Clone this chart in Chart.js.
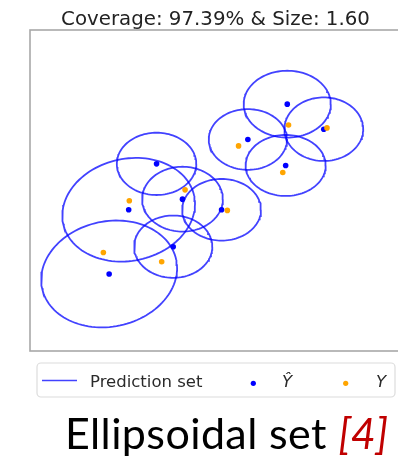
<!DOCTYPE html>
<html>
<head>
<meta charset="utf-8">
<script src="https://cdn.jsdelivr.net/npm/chart.js@4.4.1/dist/chart.umd.min.js"></script>
<style>
  html, body { margin: 0; padding: 0; background: #fff; overflow: hidden; width: 398px; height: 457px; }
  #wrap { position: relative; width: 398px; height: 457px; overflow: hidden; }
  #c { position: absolute; left: 0; top: 0; }
  #caption { position: absolute; left: 65px; top: 408px; font-family: Lato, "Open Sans", sans-serif; font-size: 43px; letter-spacing: 0.4px; line-height: 50px; color: #000; white-space: nowrap; }
  #caption .ref { color: #c00000; font-style: italic; letter-spacing: 0; }
</style>
</head>
<body>
<div id="wrap">
  <canvas id="c" width="410" height="457"></canvas>
  <div id="caption">Ellipsoidal set <span class="ref">[4]</span></div>
</div>
<script>
// Predicted points (also the centres of the prediction ellipses)
const yHatX = [8.03, 9.17, 6.80, 7.98, 3.95, 4.76, 5.98, 3.08, 4.47, 2.47];
const yHatY = [7.69, 6.91, 6.59, 5.78, 5.83, 4.73, 4.40, 4.40, 3.25, 2.40];
// Ellipse semi-axes and rotation (degrees)
const ellRx = [1.36, 1.23, 1.22, 1.25, 1.24, 1.26, 1.23, 2.09, 1.22, 2.14];
const ellRy = [1.04, 0.99, 0.945, 0.95, 0.97, 1.01, 0.96, 1.59, 0.97, 1.64];
const ellAngle = [0, 0, 0, 0, 0, 0, 0, 12, 0, 12];
// True targets
const yX = [8.07, 9.27, 6.51, 7.89, 4.84, 3.10, 6.16, 2.29, 4.11];
const yY = [7.04, 6.95, 6.39, 5.56, 5.02, 4.68, 4.38, 3.07, 2.78];

const titleText = 'Coverage: 97.39% & Size: 1.60';
const legendLabels = ['Prediction set', '\u0176', 'Y'];

const ELL_COLOR = 'rgba(0,0,255,0.74)';
const BLUE = '#0000ff';
const ORANGE = '#ffa500';

function ellipseOutline(cx, cy, rx, ry, deg) {
  const th = deg * Math.PI / 180;
  const pts = [];
  const n = 120;
  for (let k = 0; k <= n; k++) {
    const t = 2 * Math.PI * k / n;
    const ex = rx * Math.cos(t), ey = ry * Math.sin(t);
    pts.push({ x: cx + ex * Math.cos(th) - ey * Math.sin(th),
               y: cy + ex * Math.sin(th) + ey * Math.cos(th) });
  }
  return pts;
}

const datasets = [];
yHatX.forEach((cx, i) => {
  datasets.push({
    label: i === 0 ? legendLabels[0] : '',
    data: ellipseOutline(cx, yHatY[i], ellRx[i], ellRy[i], ellAngle[i]),
    showLine: true, fill: false, tension: 0,
    borderColor: ELL_COLOR, borderWidth: 1.8,
    pointRadius: 0, pointHoverRadius: 0, order: 3
  });
});
datasets.push({
  label: legendLabels[1],
  data: yHatX.map((x, i) => ({ x, y: yHatY[i] })),
  backgroundColor: BLUE, borderWidth: 0, pointRadius: 2.8, order: 2
});
datasets.push({
  label: legendLabels[2],
  data: yX.map((x, i) => ({ x, y: yY[i] })),
  backgroundColor: ORANGE, borderWidth: 0, pointRadius: 2.8, order: 1
});

// Frame, title and legend box drawn around the plotting area
const decor = {
  id: 'decor',
  afterDraw(chart) {
    const { ctx, chartArea: a } = chart;
    ctx.save();
    ctx.strokeStyle = '#a8a8a8';
    ctx.lineWidth = 1.6;
    ctx.strokeRect(a.left, a.top, a.right - a.left, a.bottom - a.top);

    ctx.fillStyle = '#222';
    ctx.font = '19.8px "DejaVu Sans"';
    ctx.textAlign = 'center';
    ctx.textBaseline = 'alphabetic';
    ctx.fillText(titleText, (a.left + a.right) / 2, 25);

    // legend frame
    const lx = 37, ly = 363, lw = 358, lh = 34, r = 4;
    ctx.beginPath();
    ctx.moveTo(lx + r, ly);
    ctx.arcTo(lx + lw, ly, lx + lw, ly + lh, r);
    ctx.arcTo(lx + lw, ly + lh, lx, ly + lh, r);
    ctx.arcTo(lx, ly + lh, lx, ly, r);
    ctx.arcTo(lx, ly, lx + lw, ly, r);
    ctx.closePath();
    ctx.fillStyle = 'rgba(255,255,255,0.8)';
    ctx.fill();
    ctx.strokeStyle = '#dcdcdc';
    ctx.lineWidth = 1.2;
    ctx.stroke();

    ctx.strokeStyle = ELL_COLOR;
    ctx.lineWidth = 1.7;
    ctx.beginPath();
    ctx.moveTo(42, 380.5);
    ctx.lineTo(77, 380.5);
    ctx.stroke();

    ctx.fillStyle = BLUE;
    ctx.beginPath(); ctx.arc(253.3, 383.3, 2.6, 0, 2 * Math.PI); ctx.fill();
    ctx.fillStyle = ORANGE;
    ctx.beginPath(); ctx.arc(345.7, 383.3, 2.6, 0, 2 * Math.PI); ctx.fill();

    ctx.fillStyle = '#2a2a2a';
    ctx.textAlign = 'left';
    ctx.font = '16.5px "DejaVu Sans"';
    ctx.fillText(legendLabels[0], 90, 386.7);
    ctx.font = 'italic 16.5px "DejaVu Sans"';
    ctx.fillText(legendLabels[1], 282, 386.5);
    ctx.fillText(legendLabels[2], 376, 386.5);
    ctx.restore();
  }
};

new Chart(document.getElementById('c'), {
  type: 'scatter',
  data: { datasets },
  options: {
    responsive: false,
    animation: false,
    devicePixelRatio: 1,
    layout: { padding: { left: 30, top: 30, right: 9, bottom: 106 } },
    scales: {
      x: { type: 'linear', min: 0, max: 11.58, display: false },
      y: { type: 'linear', min: 0, max: 10, display: false }
    },
    plugins: { legend: { display: false }, title: { display: false }, tooltip: { enabled: false } }
  },
  plugins: [decor]
});
</script>
</body>
</html>
